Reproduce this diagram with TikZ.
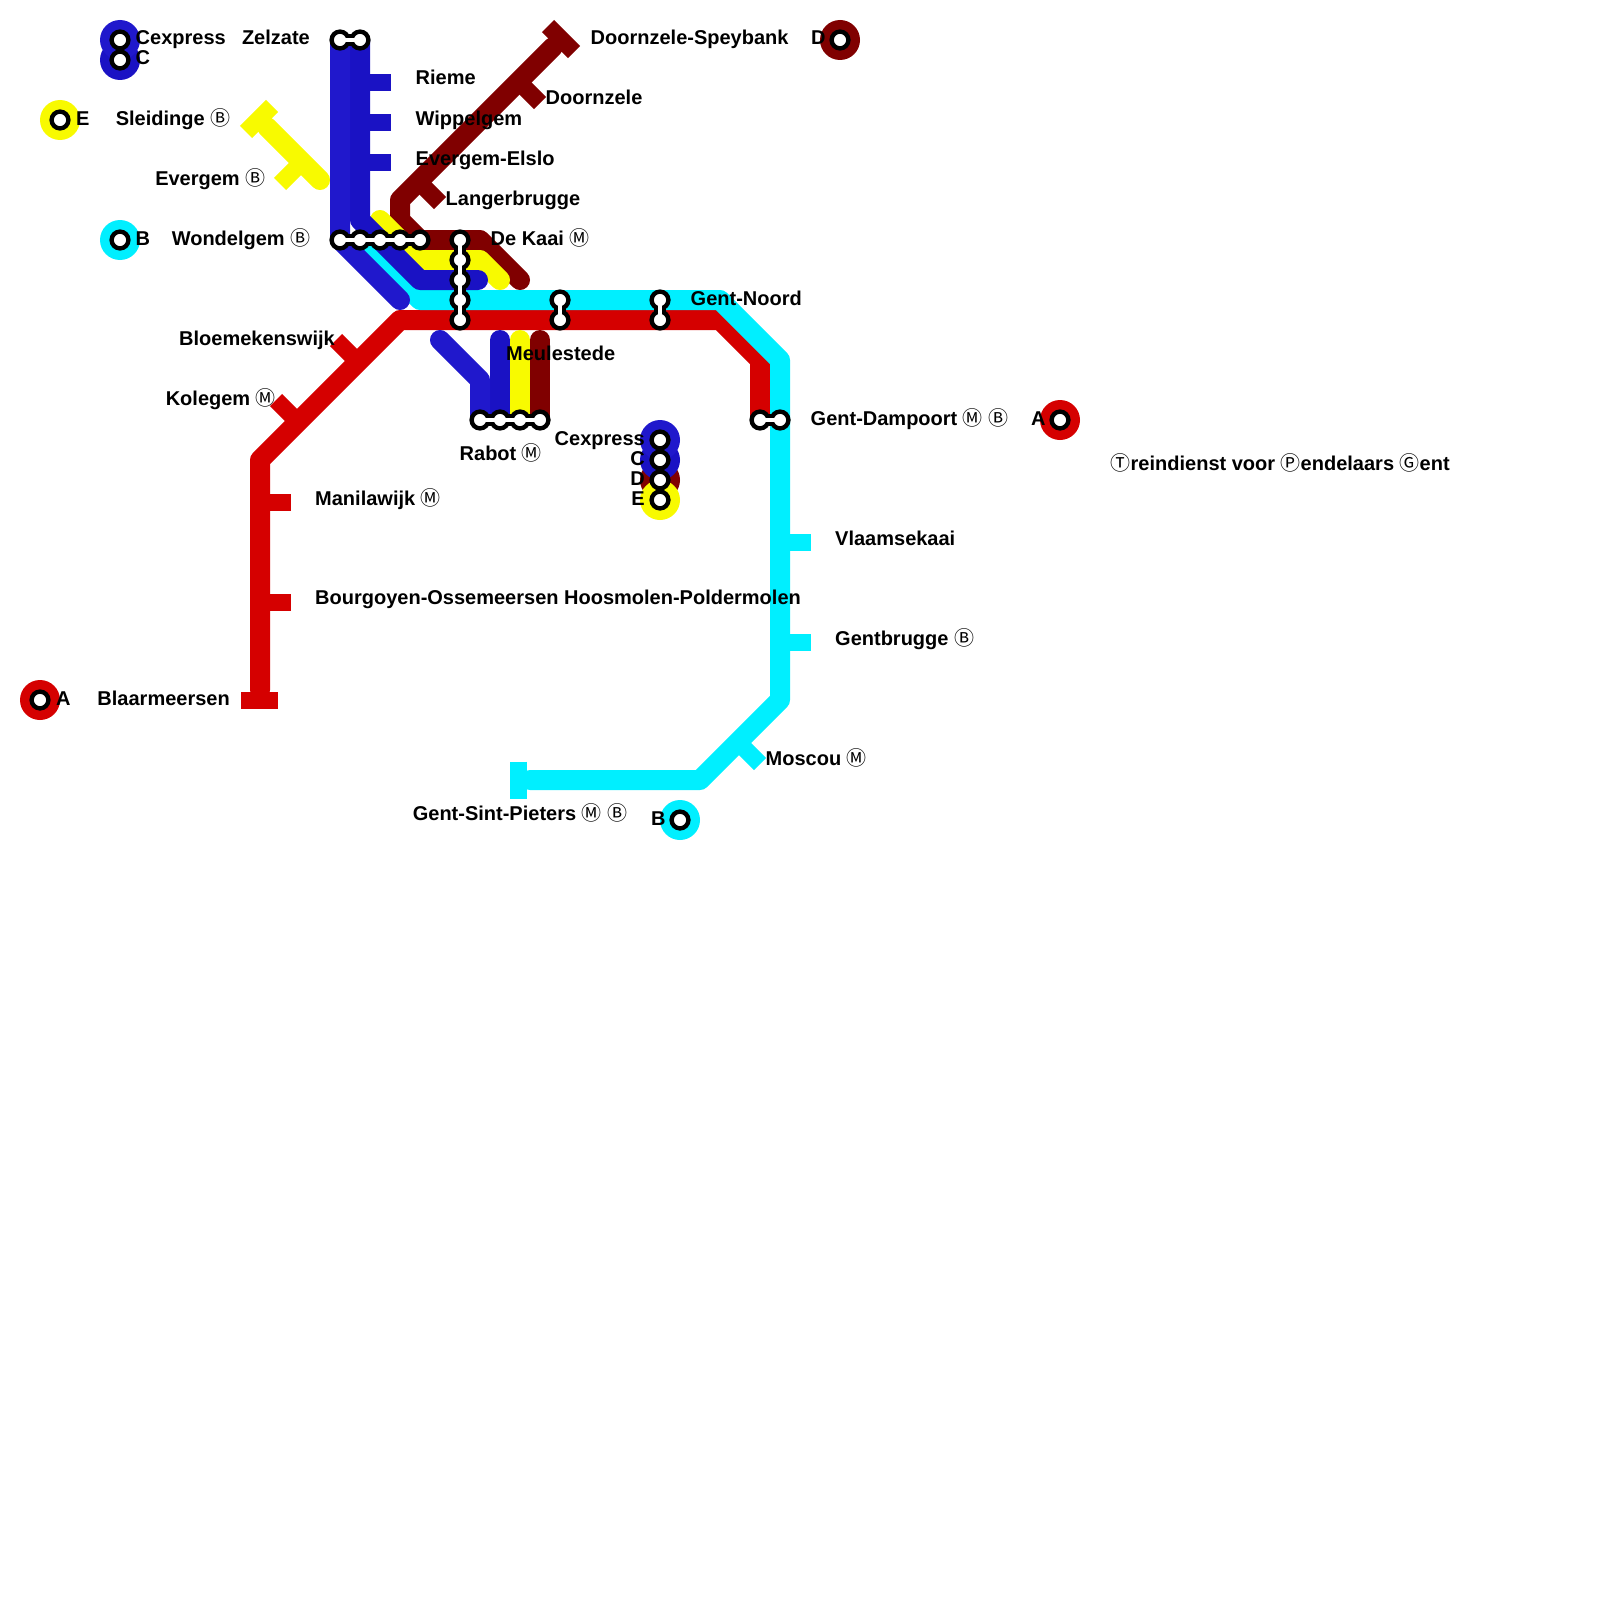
\documentclass[tikz,border=0pt]{standalone}
\usepackage{fontspec}
\usepackage{xcolor}
\usetikzlibrary{calc}
\setmainfont{Liberation Sans}
\newfontfamily\circfont{Noto Sans CJK SC}
\definecolor{lineA}{HTML}{D50000}
\definecolor{lineB}{HTML}{00EFFF}
\definecolor{lineX}{HTML}{2018CC}
\definecolor{lineC}{HTML}{1A12C4}
\definecolor{lineD}{HTML}{800000}
\definecolor{lineE}{HTML}{F8FA00}
\newcommand{\circM}{{\circfont\mdseries\fontsize{20}{20}\selectfont Ⓜ}}
\newcommand{\circB}{{\circfont\mdseries\fontsize{20}{20}\selectfont Ⓑ}}
\newcommand{\circT}{{\circfont\mdseries\fontsize{20}{20}\selectfont Ⓣ}}
\newcommand{\circP}{{\circfont\mdseries\fontsize{20}{20}\selectfont Ⓟ}}
\newcommand{\circG}{{\circfont\mdseries\fontsize{20}{20}\selectfont Ⓖ}}
\tikzset{
  metro/.style={line width=20pt,line join=round,line cap=round},
  tick/.style={line width=17pt,line cap=butt},
  stn/.style={circle,draw=black,fill=white,line width=4.4pt,minimum size=16.8pt,inner sep=0pt},
  neck/.style={line width=12pt,black},
  core/.style={line width=3.5pt,white},
  disc/.style={circle,fill=#1,minimum size=40pt,inner sep=0pt,outer sep=0pt},
  lbl/.style={font=\fontsize{20}{20}\selectfont\bfseries,inner sep=0pt,anchor=base west,text=black},
  lblr/.style={lbl,anchor=base east}
}
\begin{document}
\begin{tikzpicture}[x=1pt,y=-1pt]
  \useasboundingbox (0,0) rectangle (1600,1600);
  % stops
  \coordinate (zelX) at (340,40); \coordinate (zelC) at (360,40);
  \coordinate (wonX) at (340,240); \coordinate (wonB) at (360,240); \coordinate (wonC) at (380,240);
  \coordinate (wonE) at (400,240); \coordinate (wonD) at (420,240);
  \coordinate (kaaiD) at (460,240); \coordinate (kaaiE) at (460,260); \coordinate (kaaiC) at (460,280);
  \coordinate (kaaiB) at (460,300); \coordinate (kaaiA) at (460,320);
  \coordinate (meuB) at (560,300); \coordinate (meuA) at (560,320);
  \coordinate (noordB) at (660,300); \coordinate (noordA) at (660,320);
  \coordinate (rabX) at (480,420); \coordinate (rabC) at (500,420);
  \coordinate (rabE) at (520,420); \coordinate (rabD) at (540,420);
  \coordinate (damA) at (760,420); \coordinate (damB) at (780,420);
  % lines
  \draw[metro,lineA] (260,690) -- (260,460) -- (400,320) -- (kaaiA) -- (meuA) -- (noordA) -- (720,320) -- (760,360) -- (damA);
  \draw[tick,lineA] (241,700.5) -- (278,700.5);
  \draw[tick,lineA] (260,502.5) -- (291,502.5);
  \draw[tick,lineA] (260,602.5) -- (291,602.5);
  \draw[tick,lineA] (358,362) -- (336,340);
  \draw[tick,lineA] (298,422) -- (276,400);
  \draw[metro,lineB] (wonB) -- (420,300) -- (kaaiB) -- (meuB) -- (noordB) -- (720,300) -- (780,360) -- (damB) -- (780,700) -- (700,780) -- (530,780);
  \draw[tick,lineB] (518.5,761.5) -- (518.5,798.5);
  \draw[tick,lineB] (780,542.5) -- (811,542.5);
  \draw[tick,lineB] (780,642.5) -- (811,642.5);
  \draw[tick,lineB] (738,742) -- (760,764);
  \draw[metro,lineD] (553,47) -- (400,200) -- (400,220) -- (wonD) -- (kaaiD) -- (480,240) -- (520,280);
  \draw[metro,lineD] (540,340) -- (rabD);
  \draw[tick,lineD] (548,26) -- (574,52);
  \draw[tick,lineD] (518.5,81.5) -- (540,103);
  \draw[tick,lineD] (418.5,181.5) -- (440,203);
  \draw[metro,lineE] (320,180) -- (267,127);
  \draw[metro,lineE] (380,220) -- (wonE) -- (420,260) -- (kaaiE) -- (480,260) -- (500,280);
  \draw[metro,lineE] (520,340) -- (rabE);
  \draw[tick,lineE] (272,106) -- (246,132);
  \draw[tick,lineE] (302,162) -- (280,184);
  \draw[metro,lineC] (zelC) -- (360,220) -- (wonC) -- (420,280) -- (kaaiC) -- (478,280);
  \draw[metro,lineC] (500,340) -- (rabC);
  \draw[tick,lineC] (360,82.5) -- (391,82.5);
  \draw[tick,lineC] (360,122.5) -- (391,122.5);
  \draw[tick,lineC] (360,162.5) -- (391,162.5);
  \draw[metro,lineX] (zelX) -- (wonX) -- (400,300);
  \draw[metro,lineX] (440,340) -- (480,380) -- (rabX);
  % legend discs
  \node[disc=lineD] (dotD) at (660,480) {};
  \node[disc=lineE] (dotE) at (660,500) {};
  \node[disc=lineC] (dotC) at (660,460) {};
  \node[disc=lineX] (dotX) at (660,440) {};
  \node[disc=lineC] (keyC) at (120,60) {};
  \node[disc=lineX] (keyX) at (120,40) {};
  \node[disc=lineE] (keyE) at (60,120) {};
  \node[disc=lineB] (keyB) at (120,240) {};
  \node[disc=lineA] (keyA) at (40,700) {};
  \node[disc=lineD] (keyD) at (840,40) {};
  \node[disc=lineA] (endA) at (1060,420) {};
  \node[disc=lineB] (endB) at (680,820) {};
  % interchanges
  \draw[neck] (zelX) -- (zelC);
  \draw[neck] (wonX) -- (wonD);
  \draw[neck] (kaaiD) -- (kaaiA);
  \draw[neck] (meuB) -- (meuA);
  \draw[neck] (noordB) -- (noordA);
  \draw[neck] (rabX) -- (rabD);
  \draw[neck] (damA) -- (damB);
  \foreach \s in {zelX,zelC,wonX,wonB,wonC,wonE,wonD,kaaiD,kaaiE,kaaiC,kaaiB,kaaiA,meuB,meuA,noordB,noordA,rabX,rabC,rabE,rabD,damA,damB}
    \node[stn] (\s n) at (\s) {};
  \foreach \s in {dotD,dotE,dotC,dotX,keyC,keyX,keyE,keyB,keyA,keyD,endA,endB}
    \node[stn] (\s n) at (\s.center) {};
  \draw[core] (zelX) -- (zelC);
  \draw[core] (wonX) -- (wonD);
  \draw[core] (kaaiD) -- (kaaiA);
  \draw[core] (meuB) -- (meuA);
  \draw[core] (noordB) -- (noordA);
  \draw[core] (rabX) -- (rabD);
  \draw[core] (damA) -- (damB);
  % labels
  \node[lbl] (tKeyX) at (135.5,45) {Cexpress};
  \node[lbl] (tKeyC) at (135.5,65) {C};
  \node[lbl] (tKeyE) at (76,125) {E};
  \node[lbl] (tKeyB) at (135.5,245) {B};
  \node[lbl] (tKeyA) at (56,705) {A};
  \node[lbl] (tKeyD) at (811,45) {D};
  \node[lbl] (tEndA) at (1031,425) {A};
  \node[lbl] (tEndB) at (651,825) {B};
  \node[lblr] (tDotX) at (645,445) {Cexpress};
  \node[lblr] (tDotC) at (645,465) {C};
  \node[lblr] (tDotD) at (645,485) {D};
  \node[lblr] (tDotE) at (645,505) {E};
  \node[lblr] (tZelzate) at (310,45) {Zelzate};
  \node[lblr] (tSleidinge) at (230.5,125) {Sleidinge \circB};
  \node[lblr] (tEvergem) at (265.5,185) {Evergem \circB};
  \node[lblr] (tWondelgem) at (310.5,245) {Wondelgem \circB};
  \node[lbl] (tRieme) at (415.5,85) {Rieme};
  \node[lbl] (tWippelgem) at (415.5,125) {Wippelgem};
  \node[lbl] (tElslo) at (415.5,165) {Evergem-Elslo};
  \node[lbl] (tSpeybank) at (590.5,45) {Doornzele-Speybank};
  \node[lbl] (tDoornzele) at (545.5,105) {Doornzele};
  \node[lbl] (tLanger) at (445.5,205) {Langerbrugge};
  \node[lbl] (tKaai) at (490.5,245) {De Kaai \circM};
  \node[lbl] (tNoord) at (690.5,305) {Gent-Noord};
  \node[lbl] (tMeule) at (506,360) {Meulestede};
  \node[lblr] (tBloem) at (335,345) {Bloemekenswijk};
  \node[lblr] (tKolegem) at (276,405) {Kolegem \circM};
  \node[lbl] (tRabot) at (459.5,460) {Rabot \circM};
  \node[lbl] (tDampoort) at (810.5,425) {Gent-Dampoort \circM\ \circB};
  \node[lbl] (tTitle) at (1110.5,470) {\circT reindienst voor \circP endelaars \circG ent};
  \node[lbl] (tManila) at (315,505) {Manilawijk \circM};
  \node[lbl] (tBourg) at (315,604) {Bourgoyen-Ossemeersen Hoosmolen-Poldermolen};
  \node[lbl] (tVlaams) at (835,545) {Vlaamsekaai};
  \node[lbl] (tBrugge) at (835,645) {Gentbrugge \circB};
  \node[lblr] (tBlaar) at (230,705) {Blaarmeersen};
  \node[lbl] (tMoscou) at (765.5,765) {Moscou \circM};
  \node[lblr] (tPieters) at (627.5,820) {Gent-Sint-Pieters \circM\ \circB};
\end{tikzpicture}
\end{document}
